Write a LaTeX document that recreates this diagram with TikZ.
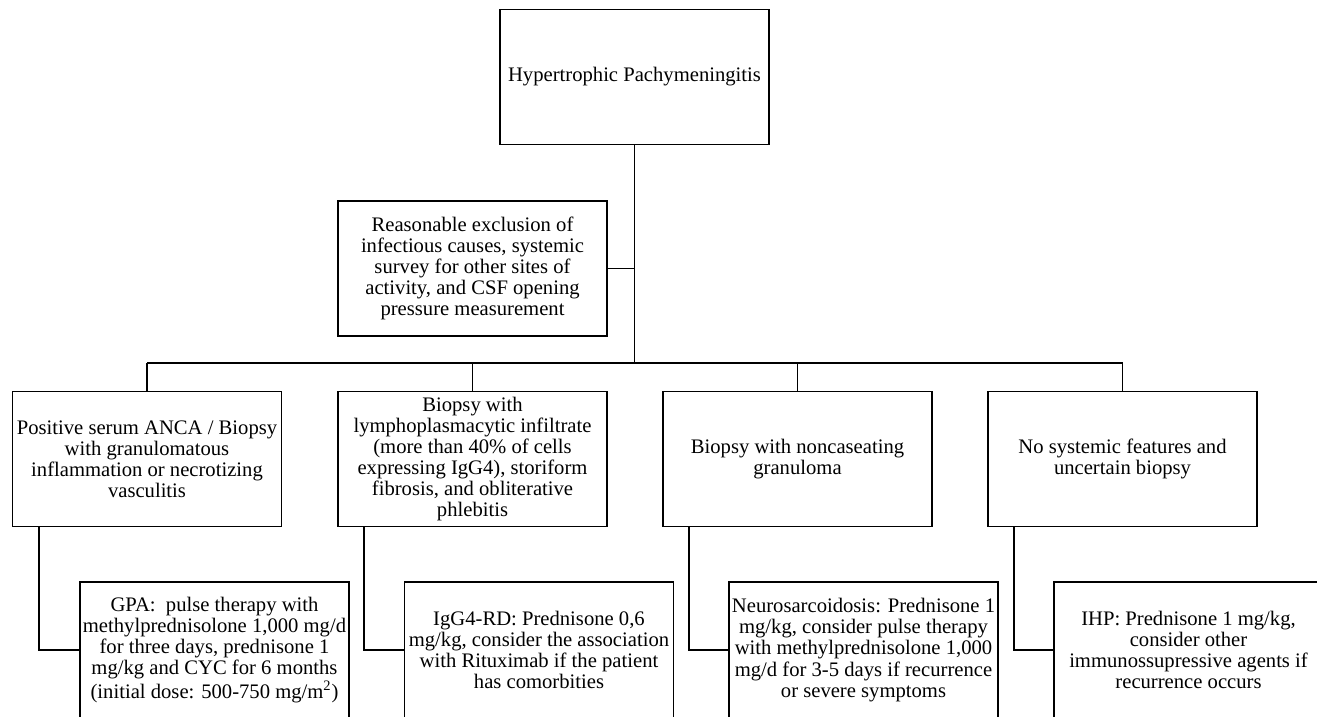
\documentclass[tikz,border=0pt]{standalone}
\usepackage{fontspec}
\setmainfont{Liberation Serif}
\usetikzlibrary{positioning}
\tikzset{
  box/.style={draw, line width=1pt, align=center, inner sep=1pt,
    minimum width=5.38cm, minimum height=2.7cm,
    font=\fontsize{11.75}{12}\selectfont},
  tbox/.style={box, minimum height=2.72cm},
  link/.style={line width=1pt}
}
\begin{document}
\begin{tikzpicture}[x=0.02cm, y=-0.02cm]
\clip (0,0) rectangle (1317,716);
\node [box] (top) at (634.5,77) {Hypertrophic Pachymeningitis};
\node [box] (excl) at (472.5,268.5) {Reasonable exclusion of\\infectious causes, systemic\\survey for other sites of\\activity, and CSF opening\\pressure measurement};
\coordinate (bus) at (634.5,363);
\node [box] (anca) at (147,459) {Positive serum ANCA / Biopsy\\with granulomatous\\inflammation or necrotizing\\vasculitis};
\node [box] (igg) at (472.5,459) {Biopsy with\\lymphoplasmacytic infiltrate\\(more than 40\% of cells\\expressing IgG4), storiform\\fibrosis, and obliterative\\phlebitis};
\node [box] (sarc) at (797.5,459) {Biopsy with noncaseating\\granuloma};
\node [box] (nosys) at (1122.5,459) {No systemic features and\\uncertain biopsy};
\node [tbox] (gpa) at (214.5,650) {GPA:~ pulse therapy with\\methylprednisolone 1,000 mg/d\\for three days, prednisone 1\\mg/kg and CYC for 6 months\\(initial dose: 500-750 mg/m\textsuperscript{2})};
\node [tbox] (igrd) at (539,650) {IgG4-RD: Prednisone 0,6\\mg/kg, consider the association\\with Rituximab if the patient\\has comorbities};
\node [tbox] (neuro) at (863.5,650) {Neurosarcoidosis: Prednisone 1\\mg/kg, consider pulse therapy\\with methylprednisolone 1,000\\mg/d for 3-5 days if recurrence\\or severe symptoms};
\node [tbox] (ihp) at (1188.5,650) {IHP: Prednisone 1 mg/kg,\\consider other\\immunossupressive agents if\\recurrence occurs};
% trunk and branches
\draw [link] (top) -- (bus);
\draw [link] (excl.east) -- (excl.east -| bus);
\draw [link] (anca.north |- bus) -- (nosys.north |- bus);
\foreach \n in {anca, igg, sarc, nosys}
  \draw [link] (\n.north |- bus) -- (\n.north);
% elbows to treatments
\draw [link] (anca.south west) ++(27,0) |- (gpa.west);
\draw [link] (igg.south west) ++(27,0) |- (igrd.west);
\draw [link] (sarc.south west) ++(27,0) |- (neuro.west);
\draw [link] (nosys.south west) ++(27,0) |- (ihp.west);
\end{tikzpicture}
\end{document}
